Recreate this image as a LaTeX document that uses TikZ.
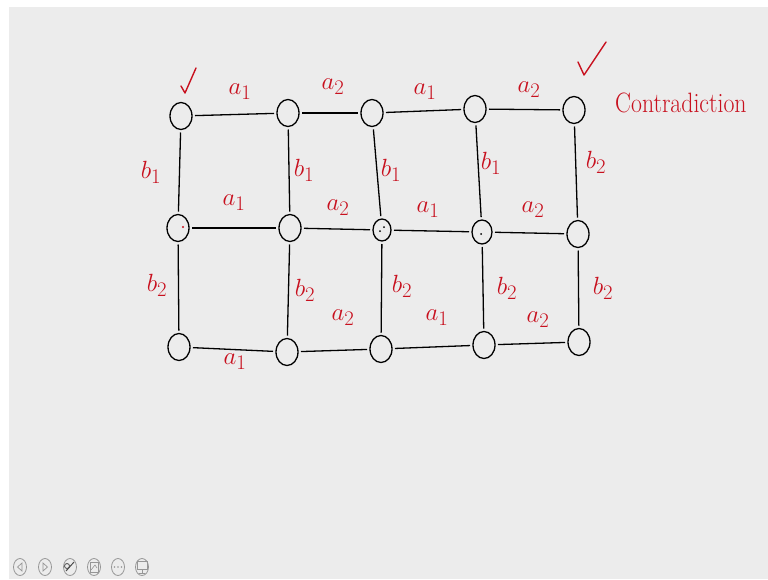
\documentclass[tikz,border=0pt]{standalone}
\usepackage{graphicx}
\usetikzlibrary{shapes.geometric}
\definecolor{ink}{RGB}{200,16,30}
\definecolor{bg}{RGB}{236,236,236}
\definecolor{icn}{RGB}{150,150,150}
\begin{document}
\begin{tikzpicture}[x=1pt,y=-1pt,
 vtx/.style={ellipse,draw=black,line width=1.3pt,minimum width=22pt,minimum height=27pt,inner sep=0pt,outer sep=3pt},
 edge/.style={line width=1.3pt,black},
 lab/.style={text=ink,font=\fontsize{30}{30}\selectfont,inner sep=0pt},
 tick/.style={draw=ink,line width=1.4pt,line cap=round,line join=round},
 icon/.style={ellipse,draw=icn,line width=0.8pt,minimum width=13pt,minimum height=17pt,inner sep=0pt}]
\useasboundingbox (0,0) rectangle (768,579);
\fill[white] (0,0) rectangle (768,579);
\fill[bg] (9,7) rectangle (768,579);
% vertices
\node[vtx] (n11) at (181,116) {};
\node[vtx] (n12) at (288,113) {};
\node[vtx] (n13) at (372,113) {};
\node[vtx] (n14) at (475,109) {};
\node[vtx] (n15) at (574,110) {};
\node[vtx] (n21) at (178,228) {};
\node[vtx] (n22) at (290,228) {};
\node[vtx,minimum width=18pt,minimum height=22pt] (n23) at (382,230) {};
\node[vtx,minimum width=20pt,minimum height=24pt] (n24) at (482,232) {};
\node[vtx] (n25) at (578,234) {};
\node[vtx] (n31) at (179,347) {};
\node[vtx] (n32) at (287,352) {};
\node[vtx] (n33) at (381,349) {};
\node[vtx] (n34) at (484,345) {};
\node[vtx] (n35) at (579,342) {};
% edges
\foreach \r in {1,2,3}{
  \draw[edge] (n\r1) -- (n\r2);
  \draw[edge] (n\r2) -- (n\r3);
  \draw[edge] (n\r3) -- (n\r4);
  \draw[edge] (n\r4) -- (n\r5);
}
\foreach \c in {1,...,5}{
  \draw[edge] (n1\c) -- (n2\c);
  \draw[edge] (n2\c) -- (n3\c);
}
% small marks inside circles
\fill[ink] (183,227) circle (1.2pt);
\fill (380,231) circle (1pt);
\fill (384,227) circle (1pt);
\fill (481,234) circle (1pt);
% labels
\node[lab] (l1) at (240,92) {$a_1$};
\node[lab] (l2) at (333,87) {$a_2$};
\node[lab] (l3) at (425,92) {$a_1$};
\node[lab] (l4) at (529,90) {$a_2$};
\node[lab] (l5) at (151,172) {$b_1$};
\node[lab] (l6) at (304,170) {$b_1$};
\node[lab] (l7) at (391,170) {$b_1$};
\node[lab] (l8) at (491,163) {$b_1$};
\node[lab] (l9) at (596,162) {$b_2$};
\node[lab] (l10) at (234,203) {$a_1$};
\node[lab] (l11) at (338,208) {$a_2$};
\node[lab] (l12) at (428,210) {$a_1$};
\node[lab] (l13) at (533,210) {$a_2$};
\node[lab] (l14) at (157,285) {$b_2$};
\node[lab] (l15) at (305,290) {$b_2$};
\node[lab] (l16) at (402,286) {$b_2$};
\node[lab] (l17) at (507,288) {$b_2$};
\node[lab] (l18) at (603,288) {$b_2$};
\node[lab] (l19) at (235,362) {$a_1$};
\node[lab] (l20) at (343,318) {$a_2$};
\node[lab] (l21) at (437,318) {$a_1$};
\node[lab] (l22) at (538,320) {$a_2$};
% check marks
\draw[tick] (181,86) -- (185,93) -- (196,68);
\draw[tick] (578,62) -- (584,75) -- (606,42);
% side text
\node[lab,anchor=base west,font=\fontsize{28}{28}\selectfont] (contra) at (615,112) {\scalebox{0.85}[1]{Contradiction}};
% toolbar icons
\node[icon] (i1) at (20,567) {};
\node[icon] (i2) at (45,567) {};
\node[icon] (i3) at (70,567) {};
\node[icon] (i4) at (94,567) {};
\node[icon] (i5) at (118,567) {};
\node[icon] (i6) at (142,567) {};
\draw[icn,line width=0.7pt] (22,563) -- (17.5,567) -- (22,571) -- cycle;
\draw[icn,line width=0.7pt] (43,563) -- (47.5,567) -- (43,571) -- cycle;
\draw[black!70,line width=1pt] (66,571) -- (74,562);
\draw[black!70,line width=0.8pt] (67,566) circle (2.5pt);
\draw[icn,line width=0.6pt] (90,562) rectangle (98,572);
\draw[icn,line width=0.6pt] (91,570) -- (95,565) -- (97,568);
\foreach \x in {114.5,118,121.5}{\fill[icn] (\x,567) circle (0.9pt);}
\draw[icn,line width=0.6pt] (137,561) rectangle (147,569);
\draw[icn,line width=0.6pt] (142,569) -- (142,573) (139,573) -- (145,573);
\end{tikzpicture}
\end{document}
